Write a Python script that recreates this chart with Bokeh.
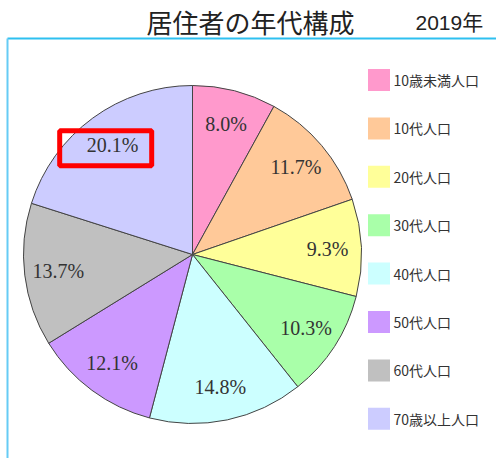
import numpy as np
from bokeh.plotting import figure
from bokeh.models import Range1d, ColumnDataSource
from bokeh.core.properties import value
from bokeh.embed import file_html
from bokeh.resources import INLINE

# ---- data ----
categories = ["10歳未満人口", "10代人口", "20代人口", "30代人口",
              "40代人口", "50代人口", "60代人口", "70歳以上人口"]
shares = [8.0, 11.7, 9.3, 10.3, 14.8, 12.1, 13.7, 20.1]
colors = ["#ff99cc", "#ffc999", "#ffff99", "#a9ffa9",
          "#ccffff", "#cc99ff", "#c0c0c0", "#ccccff"]
title_text = "居住者の年代構成"
year_text = "2019年"
highlight = "70歳以上人口"

# ---- layout (picture pixel coordinates, y measured upward) ----
W, H = 496, 458
def py(y_pic):
    return H - y_pic

cx, cy, R = 192, py(254), 169
label_r = 0.8 * R

p = figure(width=W, height=H, output_backend="svg", toolbar_location=None,
           x_range=Range1d(0, W), y_range=Range1d(0, H),
           min_border=0, outline_line_color=None, background_fill_color="white")
p.xaxis.visible = False
p.yaxis.visible = False
p.xgrid.visible = False
p.ygrid.visible = False

# frame lines (light blue)
p.line([7, W], [py(38), py(38)], line_color="#2ec0f0", line_width=2)
p.line([7, 7], [py(38), py(H)], line_color="#66ccf5", line_width=2)

# pie
vals = np.array(shares, dtype=float)
frac = vals / vals.sum()
cum = np.concatenate([[0.0], np.cumsum(frac)])
start = np.pi / 2 - 2 * np.pi * cum[:-1]
end = np.pi / 2 - 2 * np.pi * cum[1:]
mid = (start + end) / 2
src = ColumnDataSource(dict(
    start=start, end=end, color=colors,
    lx=cx + label_r * np.cos(mid), ly=cy + label_r * np.sin(mid),
    lab=[f"{v:.1f}%" for v in shares],
))
p.wedge(x=cx, y=cy, radius=R, start_angle="start", end_angle="end",
        direction="clock", fill_color="color", line_color="#444444",
        line_width=1, source=src)
p.text(x="lx", y="ly", text="lab", source=src, text_align="center",
       text_baseline="middle", text_font=value("Liberation Serif"),
       text_font_size="20px", text_color="#333333")

# highlight box around the 70歳以上 label
hi = categories.index(highlight)
p.rect(x=[src.data["lx"][hi] - 7], y=[src.data["ly"][hi] - 3], width=92, height=35,
       width_units="screen", height_units="screen",
       fill_color=None, line_color="#ff0000", line_width=5)

# legend
n = len(categories)
leg_y = [py(79.5 + 48.4 * i) for i in range(n)]
p.rect(x=[378.5] * n, y=leg_y, width=22, height=22,
       width_units="screen", height_units="screen",
       fill_color=colors, line_color=None)
p.text(x=[393] * n, y=leg_y, text=categories, text_align="left",
       text_baseline="middle", text_font=value("Noto Sans CJK JP"),
       text_font_size="14px", text_color="#333333")

# titles
p.text(x=[250], y=[py(21)], text=[title_text], text_align="center",
       text_baseline="middle", text_font=value("Noto Sans CJK JP"),
       text_font_size="26px", text_color="#222222")
p.text(x=[415], y=[py(22)], text=[year_text], text_align="left",
       text_baseline="middle", text_font=value("Liberation Sans, Noto Sans CJK JP"),
       text_font_size="21px", text_color="#222222")

open("out.html", "w").write(file_html(p, INLINE))
